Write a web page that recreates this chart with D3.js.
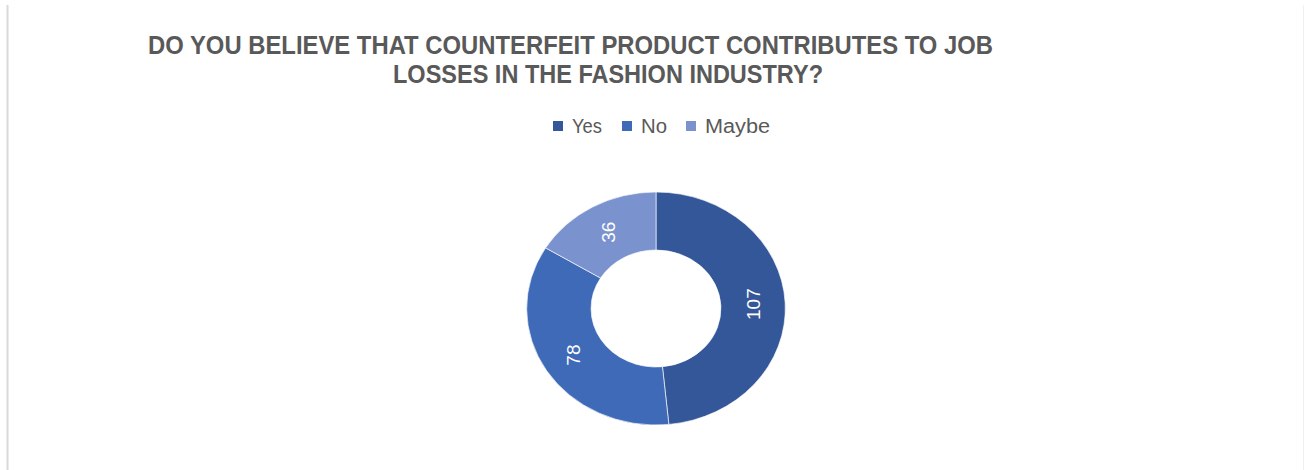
<!DOCTYPE html>
<html>
<head>
<meta charset="utf-8">
<script src="https://cdn.jsdelivr.net/npm/d3@7"></script>
<style>
  html, body { margin: 0; padding: 0; background: #fff; }
  svg { display: block; }
</style>
</head>
<body>
<svg id="chart" width="1304" height="470"></svg>
<script>
// Survey answers
const categories = ["Yes", "No", "Maybe"];
const responses = [107, 78, 36];
const sliceColors = ["#345799", "#3e6ab8", "#7a92cd"];
const titleLines = [
  "DO YOU BELIEVE THAT COUNTERFEIT PRODUCT CONTRIBUTES TO JOB",
  "LOSSES IN THE FASHION INDUSTRY?"
];

const svg = d3.select("#chart");
const textColor = "#595959";
const font = "'Liberation Sans Narrow', 'Liberation Sans', Arial, sans-serif";

// chart area frame
svg.append("line").attr("x1", 7.5).attr("x2", 7.5).attr("y1", 5).attr("y2", 470)
  .attr("stroke", "#d9d9d9").attr("stroke-width", 2);
svg.append("line").attr("x1", 1303.5).attr("x2", 1303.5).attr("y1", 5).attr("y2", 470)
  .attr("stroke", "#f0f0f0").attr("stroke-width", 1);

// title
const titleLayout = [{ cx: 570.5, y: 54, w: 845 }, { cx: 608, y: 83, w: 430 }];
svg.selectAll("text.title").data(titleLines).join("text")
  .attr("class", "title")
  .attr("x", (d, i) => titleLayout[i].cx)
  .attr("y", (d, i) => titleLayout[i].y)
  .attr("text-anchor", "middle")
  .attr("textLength", (d, i) => titleLayout[i].w)
  .attr("lengthAdjust", "spacingAndGlyphs")
  .attr("font-family", font)
  .attr("font-weight", "bold")
  .attr("font-size", 25)
  .attr("fill", textColor)
  .text(d => d);

// legend
const legendLayout = [{ x: 553, w: 30 }, { x: 622, w: 26 }, { x: 686, w: 65 }];
const legend = svg.append("g");
const items = legend.selectAll("g").data(categories).join("g")
  .attr("transform", (d, i) => `translate(${legendLayout[i].x},0)`);
items.append("rect").attr("x", 0).attr("y", 121).attr("width", 10).attr("height", 10)
  .attr("fill", (d, i) => sliceColors[i]);
items.append("text")
  .attr("x", 19).attr("y", 133)
  .attr("textLength", (d, i) => legendLayout[i].w)
  .attr("lengthAdjust", "spacingAndGlyphs")
  .attr("font-family", font)
  .attr("font-size", 20)
  .attr("fill", textColor)
  .text(d => d);

// donut
const cx = 656, cy = 308.5;
const sx = 1.11;          // horizontal stretch of the plot area
const outerR = 116.5, innerR = 58.5;
const pie = d3.pie().sort(null).value(d => d)(responses);
const arc = d3.arc().innerRadius(innerR).outerRadius(outerR);

const donut = svg.append("g").attr("transform", `translate(${cx},${cy}) scale(${sx},1)`);
donut.selectAll("path").data(pie).join("path")
  .attr("d", arc)
  .attr("fill", (d, i) => sliceColors[i])
  .attr("stroke", "#ffffff")
  .attr("stroke-width", 0.6);

// value labels, rotated 270°
const labelArc = d3.arc().innerRadius((innerR + outerR) / 2).outerRadius((innerR + outerR) / 2);
svg.append("g").selectAll("text").data(pie).join("text")
  .attr("transform", d => {
    const [x, y] = labelArc.centroid(d);
    return `translate(${cx + x * sx},${cy + y}) rotate(-90)`;
  })
  .attr("text-anchor", "middle")
  .attr("dy", "0.35em")
  .attr("font-family", "'Liberation Sans', Arial, sans-serif")
  .attr("font-size", 19)
  .attr("fill", "#ffffff")
  .text(d => d.data);
</script>
</body>
</html>
